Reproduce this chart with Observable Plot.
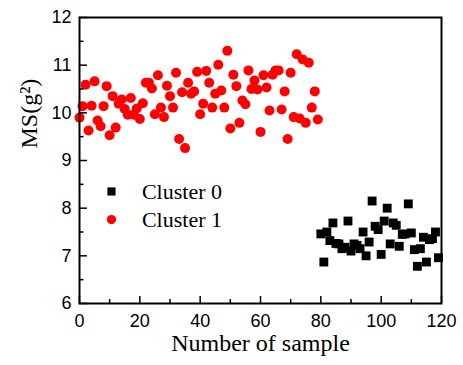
<!DOCTYPE html>
<html><head><meta charset="utf-8">
<script src="https://cdn.jsdelivr.net/npm/d3@7"></script>
<script src="https://cdn.jsdelivr.net/npm/@observablehq/plot@0.6"></script>
<style>body{margin:0;background:#fff}</style>
</head><body><div id="chart"></div>
<script>
// Cluster 1 (red circles): samples 0..79
const cluster1MS = [
  9.90,10.14,10.59,9.63,10.15,10.66,9.84,9.72,10.14,10.56,
  9.53,10.35,9.69,10.19,10.28,10.08,9.96,10.31,9.96,10.09,
  9.87,10.20,10.63,10.63,10.51,9.97,10.79,10.11,9.91,10.57,
  10.35,10.11,10.84,9.45,10.43,9.26,10.63,10.40,10.45,10.86,
  9.97,10.19,10.88,10.63,10.11,10.40,11.01,10.47,10.11,11.30,
  9.67,10.80,10.56,9.79,10.26,10.18,10.89,10.50,10.68,10.49,
  9.60,10.79,10.53,10.05,10.80,10.89,10.89,10.07,10.45,9.45,
  10.84,9.91,11.23,9.88,11.12,9.79,11.05,10.11,10.45,9.86
];
// Cluster 0 (black squares): samples 80..119
const cluster0FirstSample = 80;
const cluster0MS = [
  7.46,6.87,7.50,7.32,7.69,7.26,7.25,7.15,7.18,7.73,
  7.10,7.25,7.22,7.15,7.50,7.00,7.29,8.15,7.62,7.55,
  7.03,7.73,8.00,7.25,7.69,7.64,7.20,7.45,7.46,8.09,
  7.48,7.13,6.78,7.15,7.39,6.87,7.34,7.36,7.50,6.96
];
const xMajorTicks = [0,20,40,60,80,100,120];
const xMinorTicks = [10,30,50,70,90,110];
const yMajorTicks = [6,7,8,9,10,11,12];
const yMinorTicks = [6.5,7.5,8.5,9.5,10.5,11.5];
const legendLabels = ["Cluster 0","Cluster 1"];
const legendColors = ["black","red"];
const legendSymbols = ["square","circle"];
const legendY = [8.35,7.76];
const legendMarkerX = 10.6;
const legendTextX = 20.7;
const xTitle = "Number of sample";
const yTitle = "MS(g²)";

const sans = "'Liberation Sans', Arial, sans-serif";
const serif = "'Liberation Serif', 'Times New Roman', serif";

const c1 = cluster1MS.map((v,i)=>({sample:i, ms:v}));
const c0 = cluster0MS.map((v,i)=>({sample:cluster0FirstSample+i, ms:v}));
const legend = legendLabels.map((t,i)=>({label:t, color:legendColors[i], symbol:legendSymbols[i], y:legendY[i]}));
const fmt = d => String(d);
const xMin = 0, yMin = 6;

const chart = Plot.plot({
  width:463, height:365,
  marginLeft:79, marginRight:22, marginTop:17, marginBottom:62,
  x:{domain:[0,120]},
  y:{domain:[6,12]},
  style:{fontFamily:sans, fontSize:"18px", color:"black", background:"white", overflow:"visible"},
  marks:[
    Plot.dot(c0, {x:"sample", y:"ms", symbol:"square", r:5, fill:"black"}),
    Plot.dot(c1, {x:"sample", y:"ms", r:5, fill:"red"}),
    // axes: labels
    Plot.axisX({ticks:xMajorTicks, tickSize:0, tickPadding:11, tickFormat:fmt, fontSize:18, fontFamily:sans, label:null}),
    Plot.axisY({ticks:yMajorTicks, tickSize:0, tickPadding:8, tickFormat:fmt, fontSize:18, fontFamily:sans, label:null}),
    // inward ticks
    Plot.ruleX(xMajorTicks, {x:d=>d, y1:yMin, y2:yMin, strokeWidth:1.5, insetTop:-7}),
    Plot.ruleX(xMinorTicks, {x:d=>d, y1:yMin, y2:yMin, strokeWidth:1.5, insetTop:-4}),
    Plot.ruleY(yMajorTicks, {y:d=>d, x1:xMin, x2:xMin, strokeWidth:1.5, insetRight:-8}),
    Plot.ruleY(yMinorTicks, {y:d=>d, x1:xMin, x2:xMin, strokeWidth:1.5, insetRight:-4.5}),
    Plot.frame({stroke:"black", strokeWidth:2}),
    // titles
    Plot.text([xTitle], {frameAnchor:"bottom", dy:47, fontFamily:serif, fontSize:24, fill:"black"}),
    Plot.text([yTitle], {frameAnchor:"left", rotate:-90, dx:-50, dy:-12, fontFamily:serif, fontSize:24, fill:"black"}),
    // legend
    Plot.dot(legend, {x:()=>legendMarkerX, y:"y", symbol:"symbol", fill:"color", r:4.6}),
    Plot.text(legend, {x:()=>legendTextX, y:"y", text:"label", textAnchor:"start", fontFamily:serif, fontSize:22, fill:"black"})
  ]
});
document.getElementById("chart").append(chart);
</script>
</body></html>
